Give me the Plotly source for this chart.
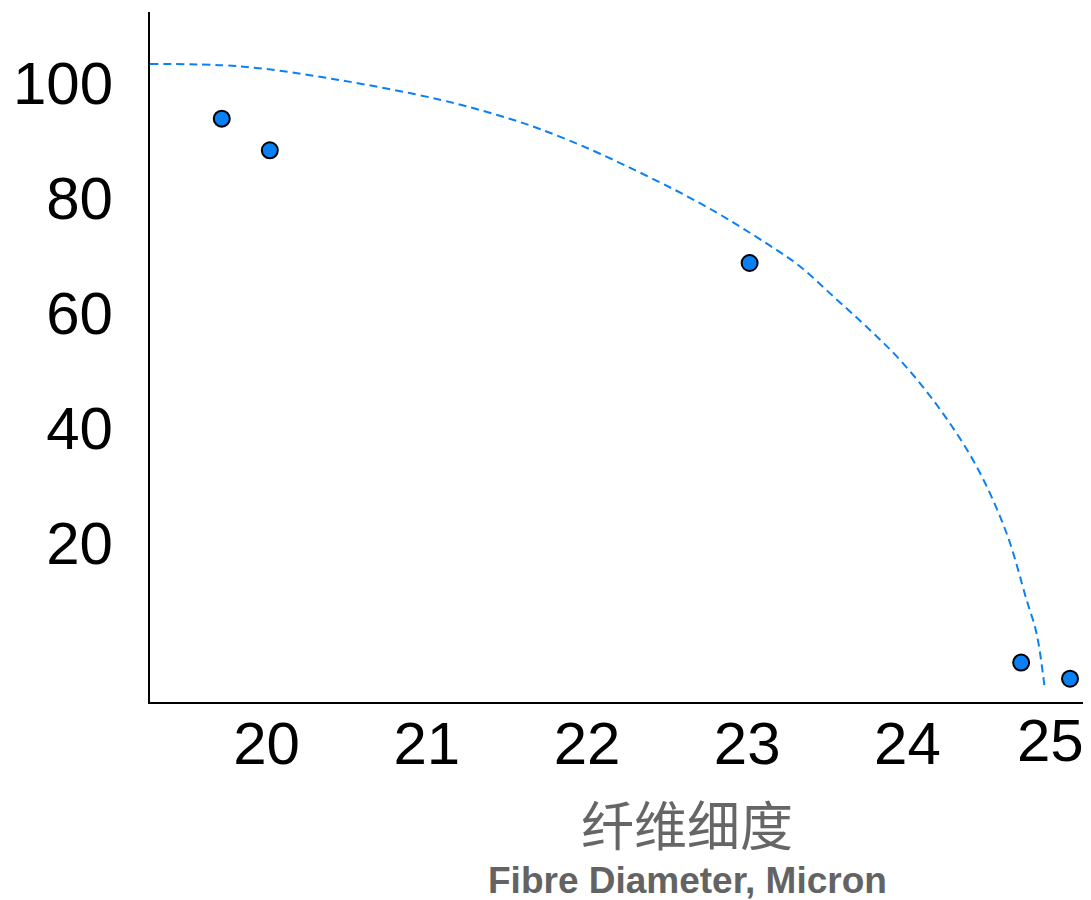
import plotly.graph_objects as go

# Observed points (fibre diameter in micron, value)
point_x = [19.72, 20.02, 23.015, 24.71, 25.015]
point_y = [93.8, 88.3, 68.7, -0.8, -3.6]

# Dashed trend curve
curve_x = [19.272, 19.833, 20.458, 21.082, 21.456, 21.706, 22.081, 22.705, 23.121,
           23.33, 23.537, 23.745, 23.955, 24.205, 24.432, 24.619, 24.744, 24.806, 24.858]
curve_y = [103.3, 102.9, 100.5, 97.1, 94.3, 92.0, 87.7, 79.1, 72.1,
           68.1, 62.9, 57.6, 51.8, 43.2, 33.3, 21.7, 10.1, 4.3, -5.5]

x_ticks = [20, 21, 22, 23, 24]
x_last_tick = 25
y_ticks = [20, 40, 60, 80, 100]

title_cn = "纤维细度"
title_en = "Fibre Diameter, Micron"

BLUE = "#0a80f5"

fig = go.Figure()
fig.add_trace(go.Scatter(
    x=curve_x, y=curve_y, mode="lines",
    line=dict(color=BLUE, width=2, dash="8px,5px", shape="spline", smoothing=1),
    hoverinfo="skip", showlegend=False))
fig.add_trace(go.Scatter(
    x=point_x, y=point_y, mode="markers",
    marker=dict(color=BLUE, size=16, line=dict(color="black", width=2)),
    showlegend=False, cliponaxis=False))

tickfont = dict(family="Liberation Sans, Arial, sans-serif", size=60, color="black")

fig.update_xaxes(
    range=[19.272, 25.146], tickvals=x_ticks, ticktext=[str(v) for v in x_ticks],
    showgrid=False, zeroline=False, showline=True, linecolor="black", linewidth=2,
    ticks="", tickfont=tickfont, ticklabelstandoff=-12)
fig.update_yaxes(
    range=[-7.65, 112.35], tickvals=y_ticks, ticktext=[str(v) for v in y_ticks],
    showgrid=False, zeroline=False, showline=True, linecolor="black", linewidth=2,
    ticks="", tickfont=tickfont, ticklabelstandoff=23)

fig.add_annotation(x=x_last_tick, xref="x", y=0, yref="paper", text=str(x_last_tick),
                   showarrow=False, xanchor="center", yanchor="top", xshift=-17, yshift=-3,
                   font=tickfont)
fig.add_annotation(x=0.5707, xref="paper", y=-0.1754, yref="paper", text=title_cn,
                   showarrow=False, xanchor="center", yanchor="middle",
                   font=dict(family="Noto Sans CJK SC", size=53, color="#666666"))
fig.add_annotation(x=0.5707, xref="paper", y=-0.258, yref="paper", text="<b>" + title_en + "</b>",
                   showarrow=False, xanchor="center", yanchor="middle",
                   font=dict(family="Liberation Sans, Arial, sans-serif", size=37, color="#636363"))

# The page body has an 8px margin, so the figure is sized to end at the window edge.
fig.update_layout(
    width=1083, height=892,
    margin=dict(l=142, r=0, t=4, b=198),
    paper_bgcolor="white", plot_bgcolor="white")

fig.write_html("out.html")
